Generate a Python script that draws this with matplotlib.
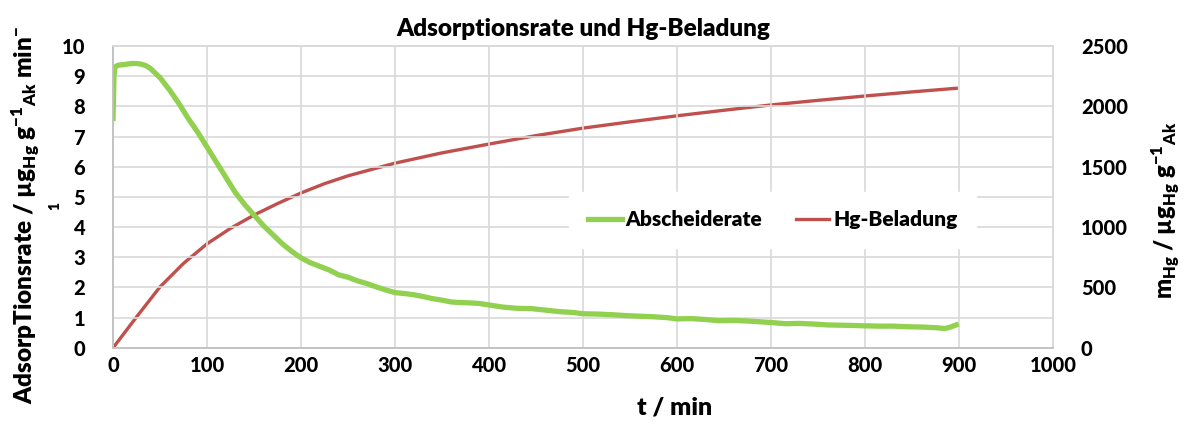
import matplotlib
matplotlib.use("Agg")
import matplotlib.pyplot as plt

plt.rcParams['font.family'] = ['Lato', 'DejaVu Sans']
plt.rcParams['font.weight'] = 'heavy'
plt.rcParams['mathtext.fontset'] = 'custom'
plt.rcParams['mathtext.rm'] = 'Lato:heavy'
plt.rcParams['mathtext.it'] = 'Lato:heavy'
plt.rcParams['mathtext.bf'] = 'Lato:heavy'
plt.rcParams['mathtext.default'] = 'rm'

# Abscheiderate (left axis)
t_rate = [0, 1, 2, 5, 10, 15, 20, 25, 30, 35, 40, 45, 50, 55, 60, 70, 80, 90, 100,
          110, 120, 130, 140, 150, 160, 170, 180, 190, 200, 210, 220, 230, 240, 250,
          260, 270, 280, 290, 300, 310, 320, 330, 340, 350, 360, 370, 380, 390, 400,
          415, 430, 445, 460, 475, 490, 500, 515, 530, 545, 560, 575, 590, 600, 615,
          630, 645, 660, 675, 690, 700, 715, 730, 745, 760, 775, 790, 800, 815, 830,
          845, 860, 875, 885, 890, 897]
rate = [7.6, 9.0, 9.3, 9.36, 9.38, 9.4, 9.42, 9.42, 9.4, 9.35, 9.25, 9.1, 8.95, 8.75, 8.55,
        8.1, 7.6, 7.15, 6.65, 6.15, 5.65, 5.15, 4.75, 4.4, 4.05, 3.75, 3.45, 3.2, 2.98,
        2.82, 2.7, 2.58, 2.42, 2.34, 2.22, 2.13, 2.02, 1.92, 1.83, 1.8, 1.76, 1.7, 1.63,
        1.58, 1.52, 1.5, 1.49, 1.47, 1.42, 1.35, 1.31, 1.3, 1.25, 1.2, 1.17, 1.13, 1.12,
        1.1, 1.07, 1.05, 1.03, 1.0, 0.96, 0.97, 0.94, 0.9, 0.91, 0.89, 0.86, 0.84, 0.8,
        0.81, 0.79, 0.76, 0.75, 0.74, 0.73, 0.72, 0.72, 0.7, 0.69, 0.67, 0.64, 0.68, 0.76]

# Hg-Beladung (right axis)
t_load = [0, 25, 50, 75, 100, 125, 150, 175, 200, 225, 250, 300, 350, 400, 450, 500,
          550, 600, 650, 700, 750, 800, 850, 897]
load = [0, 256, 505, 700, 862, 990, 1100, 1195, 1283, 1360, 1425, 1530, 1615, 1688, 1758,
        1820, 1872, 1922, 1968, 2012, 2050, 2086, 2120, 2150]

x_ticks = list(range(0, 1001, 100))
y_ticks = list(range(0, 11))
y2_ticks = list(range(0, 2501, 500))

fig = plt.figure(figsize=(11.86, 4.30), dpi=100)
ax = fig.add_axes([0.0953, 0.191, 0.7926, 0.702])
ax2 = ax.twinx()

grid_c = '#d9d9d9'
tick_font = {'fontsize': 14.5, 'fontweight': 'black'}
ax.set_xlim(0, 1000)
ax.set_ylim(0, 10)
ax.set_xticks(x_ticks, labels=[str(v) for v in x_ticks], **tick_font)
ax.set_yticks(y_ticks, labels=[str(v) for v in y_ticks], **tick_font)
ax.grid(True, color=grid_c, linewidth=1.2)
ax.set_axisbelow(True)
ax2.set_ylim(0, 2500)
ax2.set_yticks(y2_ticks, labels=[str(v) for v in y2_ticks], **tick_font)

for a in (ax, ax2):
    for s in a.spines.values():
        s.set_color(grid_c)
        s.set_linewidth(1.2)
    a.tick_params(length=0)
ax.spines['left'].set_color('#bfbfbf')
ax.spines['bottom'].set_color('#bfbfbf')
ax.tick_params(axis='y', pad=20)
ax2.tick_params(axis='y', pad=20)
ax.tick_params(axis='x', pad=6)

l1, = ax.plot(t_rate, rate, color='#92d050', linewidth=3.8, label='Abscheiderate')
l2, = ax2.plot(t_load, load, color='#c0504d', linewidth=2.4, label='Hg-Beladung')

ax.set_title('Adsorptionsrate und Hg-Beladung', fontsize=17.5, fontweight='heavy', pad=7)
ax.set_xlabel('t / min', fontsize=18, fontweight='heavy', labelpad=6)
ax.xaxis.set_label_coords(0.597, -0.16)

fig.text(0.022, 0.5, r'AdsorpTionsrate / µg$_{Hg}$ g$^{-1}$$_{Ak}$ min$^{-}$',
         rotation=90, fontsize=17.5, fontweight='heavy', ha='center', va='center')
fig.text(0.046, 0.52, '1', rotation=90, fontsize=10, fontweight='heavy',
         ha='center', va='center')
fig.text(0.983, 0.51, r'm$_{Hg}$ / µg$_{Hg}$ g$^{-1}$$_{Ak}$',
         rotation=90, fontsize=17, fontweight='heavy', ha='center', va='center')

leg = ax.legend([l1, l2], ['Abscheiderate', 'Hg-Beladung'], ncol=2,
                loc='center', bbox_to_anchor=(0.702, 0.424), frameon=True,
                fancybox=False, edgecolor='white', framealpha=1,
                prop={'size': 15, 'weight': 'heavy'}, handlelength=1.6,
                handletextpad=0.2, columnspacing=1.6, borderpad=0.9)
ax.set_zorder(ax2.get_zorder() + 1)
ax.patch.set_visible(False)

fig.savefig('out.png', dpi=100)
